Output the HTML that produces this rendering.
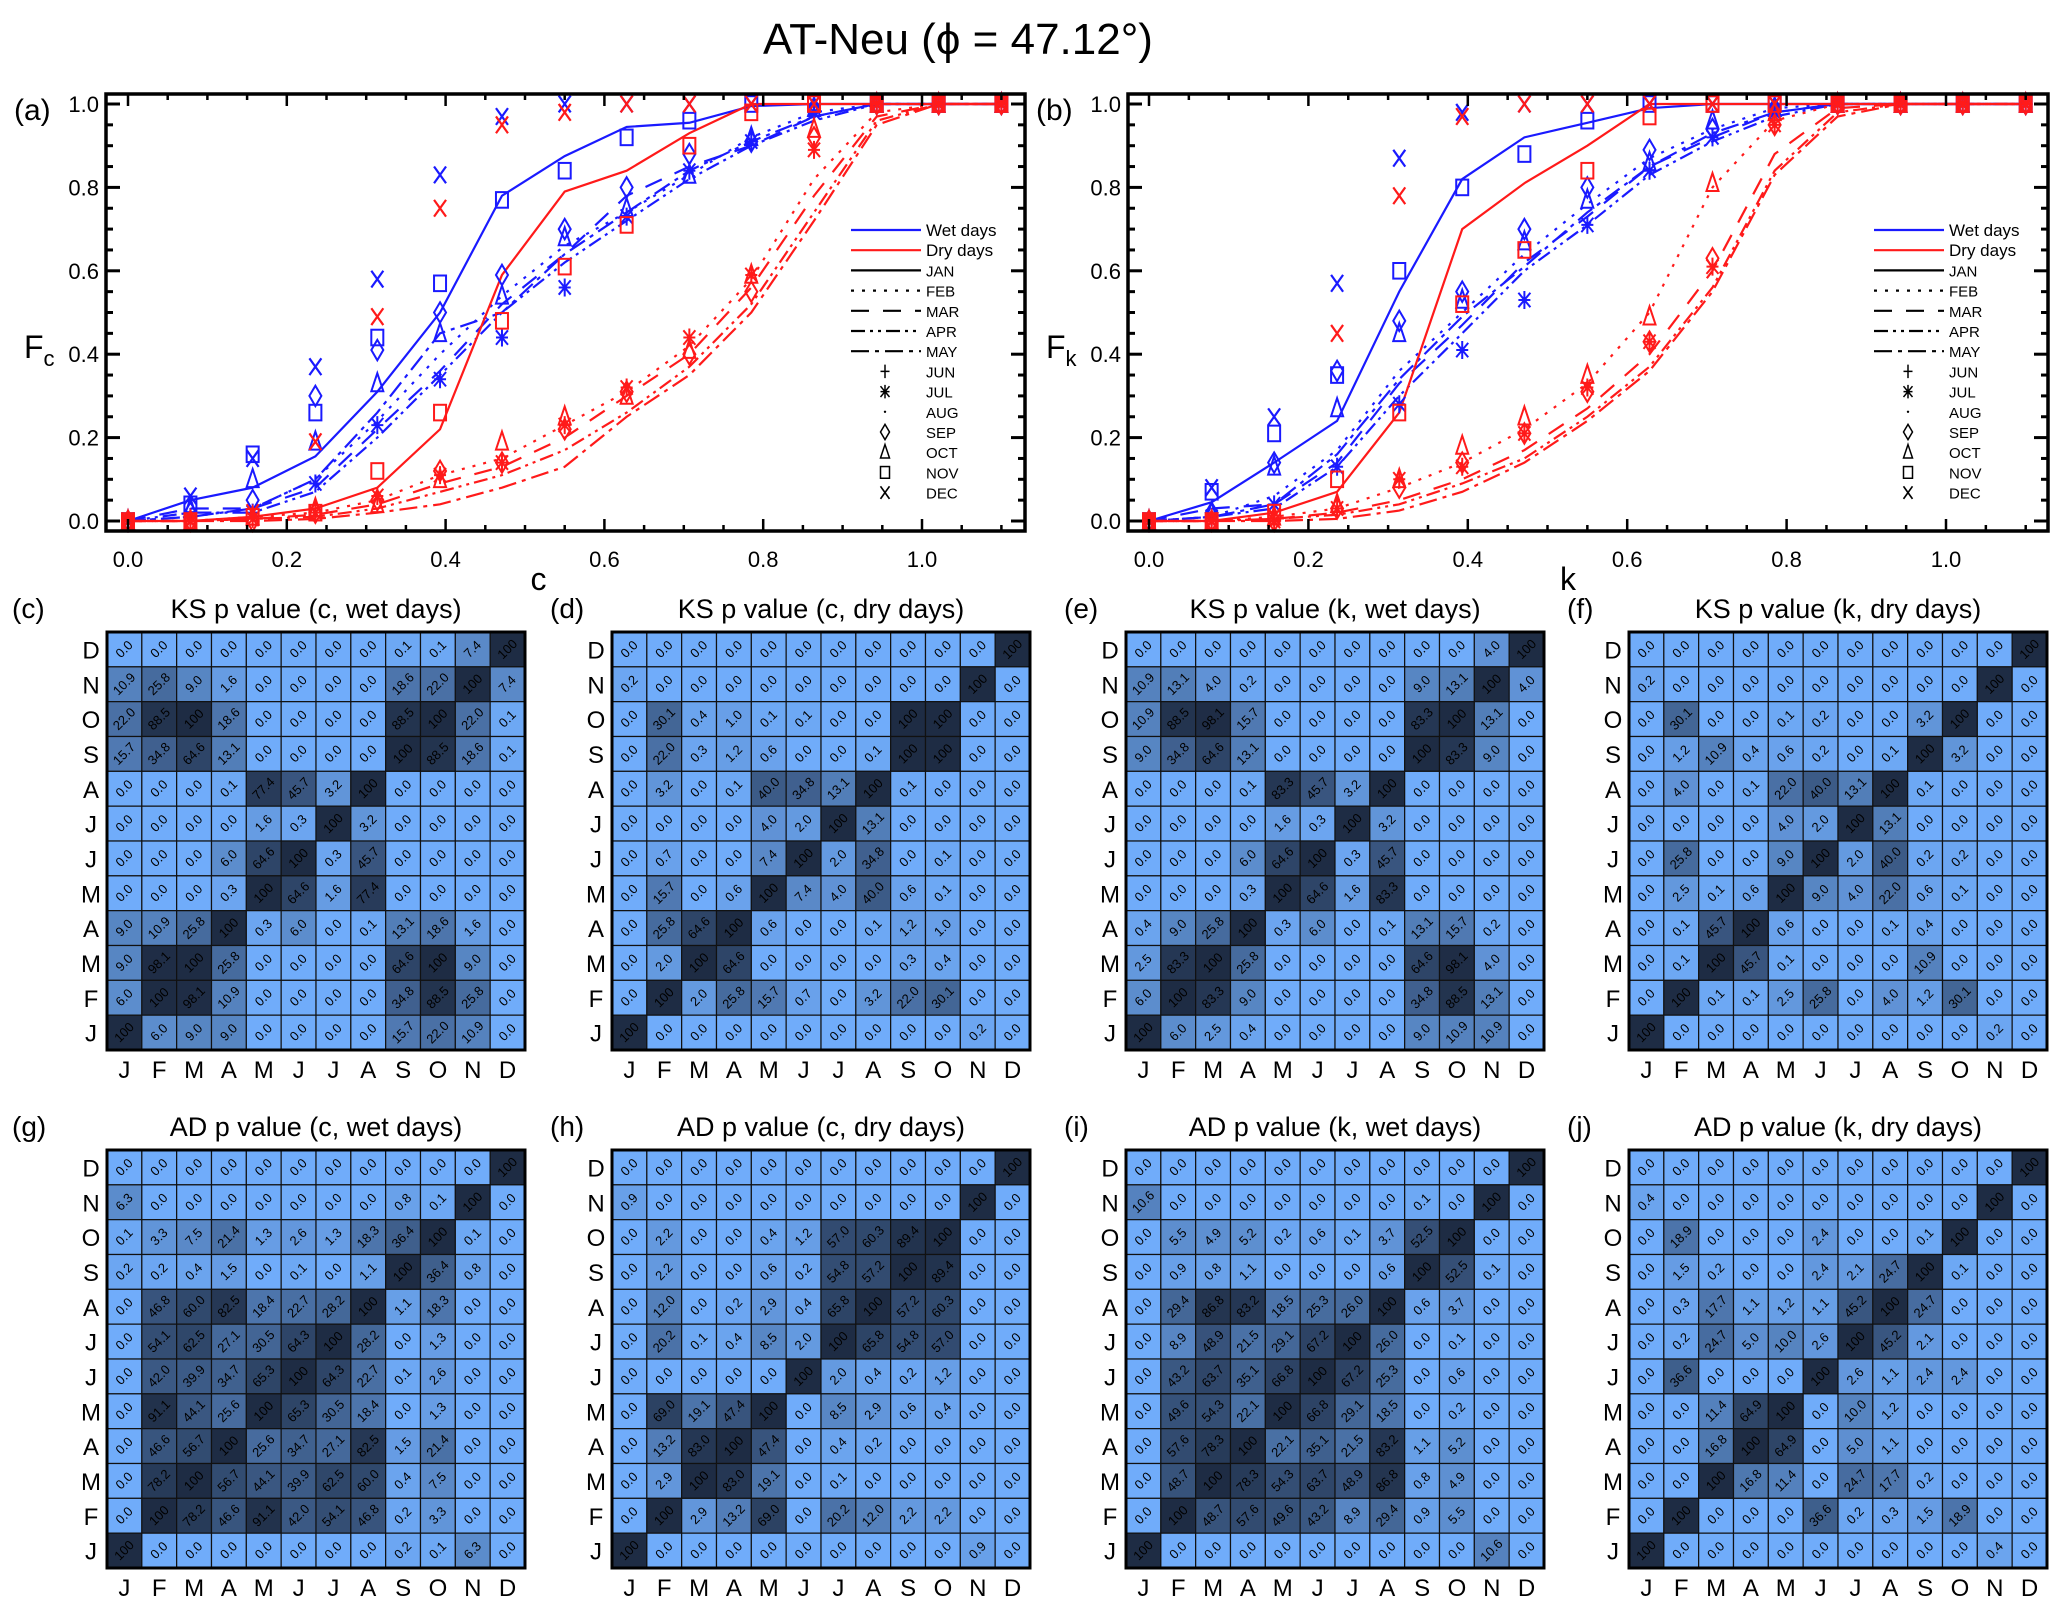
<!DOCTYPE html>
<html><head><meta charset="utf-8">
<style>
html,body{margin:0;padding:0;background:#fff;}
svg{display:block;font-family:"Liberation Sans",sans-serif;}
</style></head>
<body>
<svg id="fig" width="2067" height="1616" viewBox="0 0 2067 1616" xmlns="http://www.w3.org/2000/svg">
<text x="958" y="54" font-size="44" text-anchor="middle">AT-Neu (ϕ = 47.12°)</text>
</svg>
<script>
const NS="http://www.w3.org/2000/svg";
const svg=document.getElementById('fig');
// ---------- line chart data ----------
const xVals=[0,0.0786,0.157,0.236,0.314,0.393,0.471,0.55,0.628,0.707,0.785,0.864,0.943,1.021,1.1];
const xTicks=[0,0.2,0.4,0.6,0.8,1.0];
const yTicks=[0,0.2,0.4,0.6,0.8,1.0];
const tickLabels=["0.0","0.2","0.4","0.6","0.8","1.0"];
const monthsLegend=["JAN","FEB","MAR","APR","MAY","JUN","JUL","AUG","SEP","OCT","NOV","DEC"];
// panel a
const aWetJan=[0,0.05,0.08,0.155,0.31,0.5,0.78,0.875,0.945,0.955,0.995,1,1,1,1];
const aWetFeb=[0,0.01,0.03,0.1,0.24,0.4,0.54,0.66,0.74,0.83,0.92,0.98,1,1,1];
const aWetMar=[0,0.03,0.03,0.08,0.22,0.36,0.52,0.64,0.78,0.85,0.9,0.97,1,1,1];
const aWetApr=[0,0.02,0.02,0.07,0.2,0.35,0.5,0.62,0.72,0.82,0.9,0.96,1,1,1];
const aWetMay=[0,0.01,0.03,0.1,0.26,0.45,0.5,0.64,0.74,0.84,0.91,0.97,1,1,1];
const aDryJan=[0,0,0.01,0.03,0.08,0.22,0.59,0.79,0.84,0.93,1,1,1,1,1];
const aDryFeb=[0,0,0.01,0.02,0.05,0.11,0.15,0.23,0.31,0.42,0.58,0.82,0.98,1,1];
const aDryMar=[0,0,0.005,0.015,0.04,0.09,0.13,0.2,0.3,0.4,0.56,0.78,0.97,1,1];
const aDryApr=[0,0,0.005,0.01,0.03,0.07,0.11,0.17,0.26,0.37,0.52,0.74,0.96,1,1];
const aDryMay=[0,0,0,0.005,0.02,0.04,0.08,0.13,0.25,0.35,0.5,0.72,0.95,1,1];
const aWetDec=[0,0.06,0.15,0.37,0.58,0.83,0.97,1,1,1,1,1,1,1,1];
const aWetNov=[0,0.04,0.16,0.26,0.44,0.57,0.77,0.84,0.92,0.96,1,1,1,1,1];
const aWetSep=[0,0.02,0.05,0.3,0.41,0.5,0.59,0.7,0.8,0.88,0.91,0.99,1,1,1];
const aWetOct=[0,0.03,0.1,0.19,0.33,0.45,0.54,0.68,0.75,0.83,0.92,0.99,1,1,1];
const aWetJul=[0,0.01,0.02,0.09,0.23,0.34,0.44,0.56,0.73,0.84,0.91,0.98,1,1,1];
const aDryDec=[0,0,0.02,0.19,0.49,0.75,0.95,0.98,1,1,1,1,1,1,1];
const aDryNov=[0,0,0.01,0.02,0.12,0.26,0.48,0.61,0.71,0.9,0.98,1,1,1,1];
const aDrySep=[0,0,0,0.02,0.05,0.12,0.14,0.22,0.31,0.4,0.55,0.92,1,1,1];
const aDryOct=[0,0,0.01,0.03,0.04,0.1,0.19,0.25,0.3,0.41,0.59,0.94,1,1,1];
const aDryJul=[0,0,0.005,0.02,0.06,0.11,0.14,0.23,0.32,0.44,0.59,0.89,1,1,1];
// panel b
const bWetJan=[0,0.045,0.14,0.24,0.55,0.82,0.92,0.955,0.99,1,1,1,1,1,1];
const bWetFeb=[0,0.01,0.06,0.17,0.36,0.5,0.64,0.76,0.87,0.94,0.99,1,1,1,1];
const bWetMar=[0,0.03,0.04,0.14,0.33,0.47,0.62,0.73,0.85,0.92,0.98,1,1,1,1];
const bWetApr=[0,0.01,0.03,0.13,0.3,0.45,0.6,0.71,0.83,0.91,0.97,1,1,1,1];
const bWetMay=[0,0.01,0.04,0.16,0.34,0.49,0.61,0.74,0.85,0.93,0.98,1,1,1,1];
const bDryJan=[0,0,0.02,0.07,0.26,0.7,0.81,0.9,1,1,1,1,1,1,1];
const bDryFeb=[0,0,0.01,0.03,0.08,0.14,0.22,0.33,0.5,0.8,0.96,1,1,1,1];
const bDryMar=[0,0,0.005,0.02,0.05,0.1,0.17,0.27,0.4,0.6,0.88,0.99,1,1,1];
const bDryApr=[0,0,0.005,0.015,0.04,0.09,0.15,0.25,0.37,0.56,0.84,0.98,1,1,1];
const bDryMay=[0,0,0,0.005,0.025,0.07,0.14,0.24,0.36,0.55,0.83,0.97,1,1,1];
const bWetDec=[0,0.08,0.25,0.57,0.87,0.98,1,1,1,1,1,1,1,1,1];
const bWetNov=[0,0.07,0.21,0.35,0.6,0.8,0.88,0.96,1,1,1,1,1,1,1];
const bWetSep=[0,0.02,0.14,0.36,0.48,0.55,0.7,0.8,0.89,0.94,0.99,1,1,1,1];
const bWetOct=[0,0.02,0.13,0.27,0.45,0.53,0.67,0.77,0.86,0.96,0.99,1,1,1,1];
const bWetJul=[0,0.01,0.04,0.13,0.28,0.41,0.53,0.71,0.84,0.92,0.98,1,1,1,1];
const bDryDec=[0,0,0.01,0.45,0.78,0.97,1,1,1,1,1,1,1,1,1];
const bDryNov=[0,0,0.02,0.1,0.26,0.52,0.65,0.84,0.97,1,1,1,1,1,1];
const bDrySep=[0,0,0,0.03,0.08,0.14,0.21,0.31,0.43,0.63,0.95,1,1,1,1];
const bDryOct=[0,0,0.01,0.04,0.1,0.18,0.25,0.35,0.49,0.81,0.98,1,1,1,1];
const bDryJul=[0,0,0,0.03,0.1,0.13,0.21,0.32,0.43,0.61,0.95,1,1,1,1];

// ---------- heatmap data (rows top D -> bottom J) ----------
const rowLabels=["D","N","O","S","A","J","J","M","A","M","F","J"];
const colLabels=["J","F","M","A","M","J","J","A","S","O","N","D"];
const ksCWet=[
[0,0,0,0,0,0,0,0,0.1,0.1,7.4,100],
[10.9,25.8,9.0,1.6,0,0,0,0,18.6,22.0,100,7.4],
[22.0,88.5,100,18.6,0,0,0,0,88.5,100,22.0,0.1],
[15.7,34.8,64.6,13.1,0,0,0,0,100,88.5,18.6,0.1],
[0,0,0,0.1,77.4,45.7,3.2,100,0,0,0,0],
[0,0,0,0,1.6,0.3,100,3.2,0,0,0,0],
[0,0,0,6.0,64.6,100,0.3,45.7,0,0,0,0],
[0,0,0,0.3,100,64.6,1.6,77.4,0,0,0,0],
[9.0,10.9,25.8,100,0.3,6.0,0,0.1,13.1,18.6,1.6,0],
[9.0,98.1,100,25.8,0,0,0,0,64.6,100,9.0,0],
[6.0,100,98.1,10.9,0,0,0,0,34.8,88.5,25.8,0],
[100,6.0,9.0,9.0,0,0,0,0,15.7,22.0,10.9,0]];
const ksCDry=[
[0,0,0,0,0,0,0,0,0,0,0,100],
[0.2,0,0,0,0,0,0,0,0,0,100,0],
[0,30.1,0.4,1.0,0.1,0.1,0,0,100,100,0,0],
[0,22.0,0.3,1.2,0.6,0,0,0.1,100,100,0,0],
[0,3.2,0,0.1,40.0,34.8,13.1,100,0.1,0,0,0],
[0,0,0,0,4.0,2.0,100,13.1,0,0,0,0],
[0,0.7,0,0,7.4,100,2.0,34.8,0,0.1,0,0],
[0,15.7,0,0.6,100,7.4,4.0,40.0,0.6,0.1,0,0],
[0,25.8,64.6,100,0.6,0,0,0.1,1.2,1.0,0,0],
[0,2.0,100,64.6,0,0,0,0,0.3,0.4,0,0],
[0,100,2.0,25.8,15.7,0.7,0,3.2,22.0,30.1,0,0],
[100,0,0,0,0,0,0,0,0,0,0.2,0]];
const ksKWet=[
[0,0,0,0,0,0,0,0,0,0,4.0,100],
[10.9,13.1,4.0,0.2,0,0,0,0,9.0,13.1,100,4.0],
[10.9,88.5,98.1,15.7,0,0,0,0,83.3,100,13.1,0],
[9.0,34.8,64.6,13.1,0,0,0,0,100,83.3,9.0,0],
[0,0,0,0.1,83.3,45.7,3.2,100,0,0,0,0],
[0,0,0,0,1.6,0.3,100,3.2,0,0,0,0],
[0,0,0,6.0,64.6,100,0.3,45.7,0,0,0,0],
[0,0,0,0.3,100,64.6,1.6,83.3,0,0,0,0],
[0.4,9.0,25.8,100,0.3,6.0,0,0.1,13.1,15.7,0.2,0],
[2.5,83.3,100,25.8,0,0,0,0,64.6,98.1,4.0,0],
[6.0,100,83.3,9.0,0,0,0,0,34.8,88.5,13.1,0],
[100,6.0,2.5,0.4,0,0,0,0,9.0,10.9,10.9,0]];
const ksKDry=[
[0,0,0,0,0,0,0,0,0,0,0,100],
[0.2,0,0,0,0,0,0,0,0,0,100,0],
[0,30.1,0,0,0.1,0.2,0,0,3.2,100,0,0],
[0,1.2,10.9,0.4,0.6,0.2,0,0.1,100,3.2,0,0],
[0,4.0,0,0.1,22.0,40.0,13.1,100,0.1,0,0,0],
[0,0,0,0,4.0,2.0,100,13.1,0,0,0,0],
[0,25.8,0,0,9.0,100,2.0,40.0,0.2,0.2,0,0],
[0,2.5,0.1,0.6,100,9.0,4.0,22.0,0.6,0.1,0,0],
[0,0.1,45.7,100,0.6,0,0,0.1,0.4,0,0,0],
[0,0.1,100,45.7,0.1,0,0,0,10.9,0,0,0],
[0,100,0.1,0.1,2.5,25.8,0,4.0,1.2,30.1,0,0],
[100,0,0,0,0,0,0,0,0,0,0.2,0]];
const adCWet=[
[0,0,0,0,0,0,0,0,0,0,0,100],
[6.3,0,0,0,0,0,0,0,0.8,0.1,100,0],
[0.1,3.3,7.5,21.4,1.3,2.6,1.3,18.3,36.4,100,0.1,0],
[0.2,0.2,0.4,1.5,0,0.1,0,1.1,100,36.4,0.8,0],
[0,46.8,60.0,82.5,18.4,22.7,28.2,100,1.1,18.3,0,0],
[0,54.1,62.5,27.1,30.5,64.3,100,28.2,0,1.3,0,0],
[0,42.0,39.9,34.7,65.3,100,64.3,22.7,0.1,2.6,0,0],
[0,91.1,44.1,25.6,100,65.3,30.5,18.4,0,1.3,0,0],
[0,46.6,56.7,100,25.6,34.7,27.1,82.5,1.5,21.4,0,0],
[0,78.2,100,56.7,44.1,39.9,62.5,60.0,0.4,7.5,0,0],
[0,100,78.2,46.6,91.1,42.0,54.1,46.8,0.2,3.3,0,0],
[100,0,0,0,0,0,0,0,0.2,0.1,6.3,0]];
const adCDry=[
[0,0,0,0,0,0,0,0,0,0,0,100],
[0.9,0,0,0,0,0,0,0,0,0,100,0],
[0,2.2,0,0,0.4,1.2,57.0,60.3,89.4,100,0,0],
[0,2.2,0,0,0.6,0.2,54.8,57.2,100,89.4,0,0],
[0,12.0,0,0.2,2.9,0.4,65.8,100,57.2,60.3,0,0],
[0,20.2,0.1,0.4,8.5,2.0,100,65.8,54.8,57.0,0,0],
[0,0,0,0,0,100,2.0,0.4,0.2,1.2,0,0],
[0,69.0,19.1,47.4,100,0,8.5,2.9,0.6,0.4,0,0],
[0,13.2,83.0,100,47.4,0,0.4,0.2,0,0,0,0],
[0,2.9,100,83.0,19.1,0,0.1,0,0,0,0,0],
[0,100,2.9,13.2,69.0,0,20.2,12.0,2.2,2.2,0,0],
[100,0,0,0,0,0,0,0,0,0,0.9,0]];
const adKWet=[
[0,0,0,0,0,0,0,0,0,0,0,100],
[10.6,0,0,0,0,0,0,0,0.1,0,100,0],
[0,5.5,4.9,5.2,0.2,0.6,0.1,3.7,52.5,100,0,0],
[0,0.9,0.8,1.1,0,0,0,0.6,100,52.5,0.1,0],
[0,29.4,86.8,83.2,18.5,25.3,26.0,100,0.6,3.7,0,0],
[0,8.9,48.9,21.5,29.1,67.2,100,26.0,0,0.1,0,0],
[0,43.2,63.7,35.1,66.8,100,67.2,25.3,0,0.6,0,0],
[0,49.6,54.3,22.1,100,66.8,29.1,18.5,0,0.2,0,0],
[0,57.6,78.3,100,22.1,35.1,21.5,83.2,1.1,5.2,0,0],
[0,48.7,100,78.3,54.3,63.7,48.9,86.8,0.8,4.9,0,0],
[0,100,48.7,57.6,49.6,43.2,8.9,29.4,0.9,5.5,0,0],
[100,0,0,0,0,0,0,0,0,0,10.6,0]];
const adKDry=[
[0,0,0,0,0,0,0,0,0,0,0,100],
[0.4,0,0,0,0,0,0,0,0,0,100,0],
[0,18.9,0,0,0,2.4,0,0,0.1,100,0,0],
[0,1.5,0.2,0,0,2.4,2.1,24.7,100,0.1,0,0],
[0,0.3,17.7,1.1,1.2,1.1,45.2,100,24.7,0,0,0],
[0,0.2,24.7,5.0,10.0,2.6,100,45.2,2.1,0,0,0],
[0,36.6,0,0,0,100,2.6,1.1,2.4,2.4,0,0],
[0,0,11.4,64.9,100,0,10.0,1.2,0,0,0,0],
[0,0,16.8,100,64.9,0,5.0,1.1,0,0,0,0],
[0,0,100,16.8,11.4,0,24.7,17.7,0.2,0,0,0],
[0,100,0,0,0,36.6,0.2,0.3,1.5,18.9,0,0],
[100,0,0,0,0,0,0,0,0,0,0.4,0]];

function el(tag,attrs,parent){const e=document.createElementNS(NS,tag);for(const k in attrs)e.setAttribute(k,attrs[k]);(parent||svg).appendChild(e);return e;}
function txt(s,attrs,parent){const e=el('text',attrs,parent);e.textContent=s;return e;}

const BLUE="#1a1aff", RED="#ff1a1a";
const dashes={JAN:"",FEB:"3,8",MAR:"18,14",APR:"14,5,3,5,3,5",MAY:"18,6,4,6"};

function marker(g,type,cx,cy,color){
  const s=6;let m;
  if(type==='sq'){m=el('rect',{x:cx-s,y:cy-s*1.3,width:2*s,height:2.6*s,fill:'none',stroke:color,'stroke-width':2},g);}
  else if(type==='dia'){m=el('polygon',{points:`${cx},${cy-s*1.7} ${cx+s},${cy} ${cx},${cy+s*1.7} ${cx-s},${cy}`,fill:'none',stroke:color,'stroke-width':2},g);}
  else if(type==='tri'){m=el('polygon',{points:`${cx},${cy-s*1.7} ${cx+s},${cy+s*1.3} ${cx-s},${cy+s*1.3}`,fill:'none',stroke:color,'stroke-width':2},g);}
  else if(type==='x'){m=el('path',{d:`M${cx-s},${cy-s*1.4}L${cx+s},${cy+s*1.4}M${cx+s},${cy-s*1.4}L${cx-s},${cy+s*1.4}`,stroke:color,'stroke-width':2.2,fill:'none'},g);}
  else if(type==='ast'){m=el('path',{d:`M${cx-s},${cy-s*1.2}L${cx+s},${cy+s*1.2}M${cx+s},${cy-s*1.2}L${cx-s},${cy+s*1.2}M${cx},${cy-s*1.5}L${cx},${cy+s*1.5}M${cx-s},${cy}L${cx+s},${cy}`,stroke:color,'stroke-width':2,fill:'none'},g);}
  else if(type==='plus'){m=el('path',{d:`M${cx},${cy-s*1.5}L${cx},${cy+s*1.5}M${cx-s},${cy}L${cx+s},${cy}`,stroke:color,'stroke-width':2,fill:'none'},g);}
  else if(type==='dot'){m=el('circle',{cx:cx,cy:cy,r:1.6,fill:color},g);}
  return m;
}

function lineChart(cfg){
  const g=el('g',{});
  
  
  const L=cfg.left,R=cfg.right,T=94,B=531;
  const x0=cfg.x0,x1=cfg.x1,y0=521,y1=104;
  const X=v=>x0+(x1-x0)*v, Y=v=>y0+(y1-y0)*v;
  const series=[
    [cfg.wet[0],BLUE,'JAN'],[cfg.wet[1],BLUE,'FEB'],[cfg.wet[2],BLUE,'MAR'],[cfg.wet[3],BLUE,'APR'],[cfg.wet[4],BLUE,'MAY'],
    [cfg.dry[0],RED,'JAN'],[cfg.dry[1],RED,'FEB'],[cfg.dry[2],RED,'MAR'],[cfg.dry[3],RED,'APR'],[cfg.dry[4],RED,'MAY']];
  series.forEach(s=>{
    const p=el('polyline',{points:s[0].map((v,i)=>X(xVals[i])+','+Y(v)).join(' '),fill:'none',stroke:s[1],'stroke-width':2.2,'stroke-dasharray':dashes[s[2]]},g);
    
    
  });
  const mk=[[cfg.mWet,BLUE,'wet'],[cfg.mDry,RED,'dry']];
  const types=['ast','dia','tri','sq','x'];
  mk.forEach(set=>{
    set[0].forEach((arr,k)=>{
      arr.forEach((v,i)=>{
        const m=marker(g,types[k],X(xVals[i]),Y(v),set[1]);
        
        
      });
    });
  });
  const fr=el('rect',{x:L,y:T,width:R-L,height:B-T,fill:'none',stroke:'#000','stroke-width':3.5},g);
  
  
  for(let v=0;v<=1.1001;v+=0.05){
    const major=Math.abs(v*5-Math.round(v*5))<1e-6;const len=major?12:6;const x=X(v);
    if(x>R-2)continue;
    el('line',{x1:x,y1:B,x2:x,y2:B-len,stroke:'#000','stroke-width':2.5},g);
    el('line',{x1:x,y1:T,x2:x,y2:T+len,stroke:'#000','stroke-width':2.5},g);
  }
  for(let v=0;v<=1.0001;v+=0.05){
    const major=Math.abs(v*5-Math.round(v*5))<1e-6;const len=major?14:7;const y=Y(v);
    el('line',{x1:L,y1:y,x2:L+len,y2:y,stroke:'#000','stroke-width':3},g);
    el('line',{x1:R,y1:y,x2:R-len,y2:y,stroke:'#000','stroke-width':3},g);
  }
  xTicks.forEach((v,i)=>{const t=txt(tickLabels[i],{x:X(v),y:567,'font-size':22,'text-anchor':'middle'},g);});
  yTicks.forEach((v,i)=>{const t=txt(tickLabels[i],{x:L-7,y:Y(v)+8,'font-size':22,'text-anchor':'end'},g);});
  const xt=txt(cfg.xlab,{x:(L+R)/2-(cfg.xlab==='k'?20:0)+ (cfg.xlab==='c'?-27:0),y:590,'font-size':32,'text-anchor':'middle'},g);
  
  const yt=el('text',{x:cfg.ylabX,y:358,'font-size':32},g);
  
  yt.innerHTML='F<tspan font-size="22" dy="8">'+cfg.xlab+'</tspan>';
  const pl=txt(cfg.label,{x:cfg.labelX,y:120,'font-size':30},g);
  
  const lg=el('g',{},g);
  
  const lx=cfg.legX, ly=230, dy=20.2;
  const rows=[['Wet days',BLUE,'line',''],['Dry days',RED,'line',''],['JAN','#000','line',dashes.JAN],['FEB','#000','line',dashes.FEB],['MAR','#000','line',dashes.MAR],['APR','#000','line',dashes.APR],['MAY','#000','line',dashes.MAY],['JUN','#000','plus'],['JUL','#000','ast'],['AUG','#000','dot'],['SEP','#000','dia'],['OCT','#000','tri'],['NOV','#000','sq'],['DEC','#000','x']];
  rows.forEach((r,i)=>{
    const y=ly+i*dy;
    const e=el('g',{},lg);
    
    if(r[2]==='line'){el('line',{x1:lx,y1:y,x2:lx+70,y2:y,stroke:r[1],'stroke-width':2.2,'stroke-dasharray':r[3]},e);}
    else{const m=marker(e,r[2],lx+34,y,'#000');m.setAttribute('transform',`translate(${lx+34},${y}) scale(0.75) translate(${-(lx+34)},${-y})`);}
    txt(r[0],{x:lx+75,y:y+6,'font-size':r[0].length>3?17:15},e);
  });
}

lineChart({name:'panel-a-chart',left:106,right:1025,x0:128,x1:922,xlab:'c',label:'(a)',labelX:14,ylabX:24,legX:851,
  wet:[aWetJan,aWetFeb,aWetMar,aWetApr,aWetMay],dry:[aDryJan,aDryFeb,aDryMar,aDryApr,aDryMay],
  mWet:[aWetJul,aWetSep,aWetOct,aWetNov,aWetDec],mDry:[aDryJul,aDrySep,aDryOct,aDryNov,aDryDec]});
lineChart({name:'panel-b-chart',left:1128,right:2048,x0:1149,x1:1946,xlab:'k',label:'(b)',labelX:1036,ylabX:1046,legX:1874,
  wet:[bWetJan,bWetFeb,bWetMar,bWetApr,bWetMay],dry:[bDryJan,bDryFeb,bDryMar,bDryApr,bDryMay],
  mWet:[bWetJul,bWetSep,bWetOct,bWetNov,bWetDec],mDry:[bDryJul,bDrySep,bDryOct,bDryNov,bDryDec]});

function color(v){
  const t=Math.sqrt(Math.max(0,Math.min(100,v))/100);
  const a=[112,172,250],b=[30,44,68];
  return `rgb(${Math.round(a[0]+(b[0]-a[0])*t)},${Math.round(a[1]+(b[1]-a[1])*t)},${Math.round(a[2]+(b[2]-a[2])*t)})`;
}
function heatmap(name,mat,left,top,title,label,labelX){
  const g=el('g',{});
  
  const W=418, c=W/12;
  mat.forEach((row,r)=>row.forEach((v,k)=>{
    const x=left+k*c,y=top+r*c;
    const rc=el('rect',{x:x,y:y,width:c,height:c,fill:color(v),stroke:'#111','stroke-width':1.2},g);
    
    const cx=x+c/2,cy=y+c/2+4;
    const t=txt(v>=100?'100':v.toFixed(1),{x:cx,y:cy,'font-size':13,'text-anchor':'middle',transform:`rotate(-45 ${cx} ${cy-4})`},g);
    
  }));
  el('rect',{x:left,y:top,width:W,height:W,fill:'none',stroke:'#000','stroke-width':3},g);
  rowLabels.forEach((s,r)=>{const t=txt(s,{x:left-16,y:top+r*c+c/2+9,'font-size':24,'text-anchor':'middle'},g);});
  colLabels.forEach((s,k)=>{const t=txt(s,{x:left+k*c+c/2,y:top+W+28,'font-size':24,'text-anchor':'middle'},g);});
  const tt=txt(title,{x:left+W/2,y:top-14,'font-size':27,'text-anchor':'middle'},g);
  
  const pl=txt(label,{x:labelX,y:top-14,'font-size':28},g);
  
}
const T1=632,T2=1150;
heatmap('heatmap-c',ksCWet,107,T1,'KS p value (c, wet days)','(c)',12);
heatmap('heatmap-d',ksCDry,612,T1,'KS p value (c, dry days)','(d)',550);
heatmap('heatmap-e',ksKWet,1126,T1,'KS p value (k, wet days)','(e)',1064);
heatmap('heatmap-f',ksKDry,1629,T1,'KS p value (k, dry days)','(f)',1567);
heatmap('heatmap-g',adCWet,107,T2,'AD p value (c, wet days)','(g)',12);
heatmap('heatmap-h',adCDry,612,T2,'AD p value (c, dry days)','(h)',550);
heatmap('heatmap-i',adKWet,1126,T2,'AD p value (k, wet days)','(i)',1064);
heatmap('heatmap-j',adKDry,1629,T2,'AD p value (k, dry days)','(j)',1567);
</script>
</body></html>
